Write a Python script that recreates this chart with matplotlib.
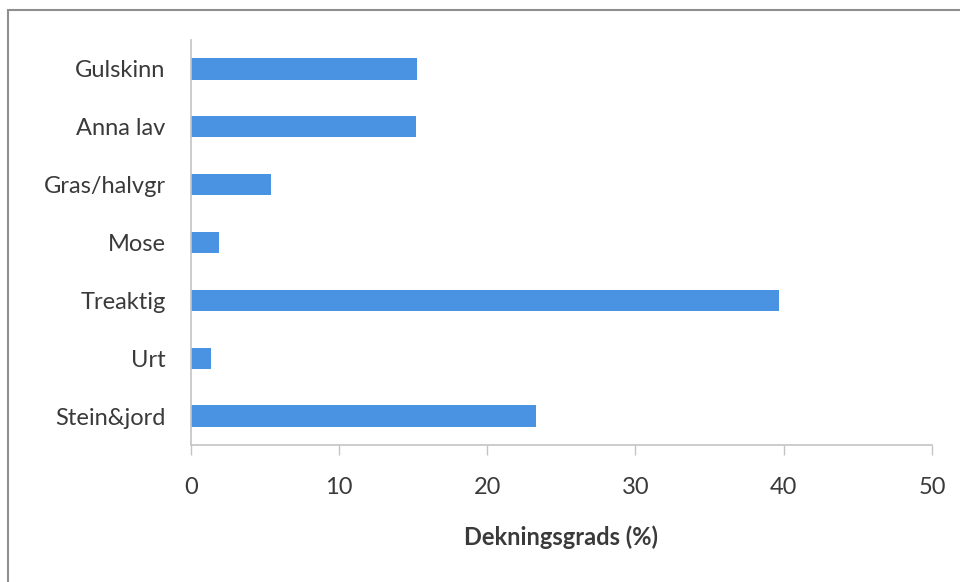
import matplotlib
matplotlib.use("Agg")
import matplotlib.pyplot as plt
from matplotlib.patches import Rectangle

# Cover categories (top to bottom) and their coverage in percent
categories = ["Gulskinn", "Anna lav", "Gras/halvgr", "Mose", "Treaktig", "Urt", "Stein&jord"]
coverage = [15.3, 15.2, 5.4, 1.9, 39.7, 1.4, 23.3]
x_ticks = [0, 10, 20, 30, 40, 50]
x_label = "Dekningsgrads (%)"

plt.rcParams["font.family"] = ["Lato", "DejaVu Sans"]

fig = plt.figure(figsize=(9.6, 5.82), dpi=100)
ax = fig.add_axes([0.1986, 0.2354, 0.7722, 0.6959])

positions = list(range(len(categories)))
ax.barh(positions, coverage, height=0.37, color="#4A92E2", zorder=2)

ax.set_ylim(len(categories) - 0.5, -0.5)
ax.set_xlim(0, 50)
ax.set_yticks(positions)
ax.set_yticklabels(categories)
ax.set_xticks(x_ticks)
ax.set_xticklabels([str(t) for t in x_ticks])

text_color = "#3a3a3a"
axis_color = "#c4c4c4"
ax.tick_params(axis="y", length=0, pad=18, labelsize=17, labelcolor=text_color)
ax.tick_params(axis="x", length=7, width=1, color=axis_color, pad=16,
               labelsize=17, labelcolor=text_color)

for side in ("top", "right"):
    ax.spines[side].set_visible(False)
for side in ("left", "bottom"):
    ax.spines[side].set_color(axis_color)
    ax.spines[side].set_linewidth(1.2)

ax.set_xlabel(x_label, fontsize=17, fontweight="bold", color=text_color, labelpad=20)

# Chart area frame
fig.patches.append(Rectangle((8 / 960, -0.05), 1.0, (582 - 10) / 582 + 0.05,
                             transform=fig.transFigure, fill=False,
                             edgecolor="#8f8f8f", linewidth=1.5))

fig.savefig("out.png", dpi=100)
